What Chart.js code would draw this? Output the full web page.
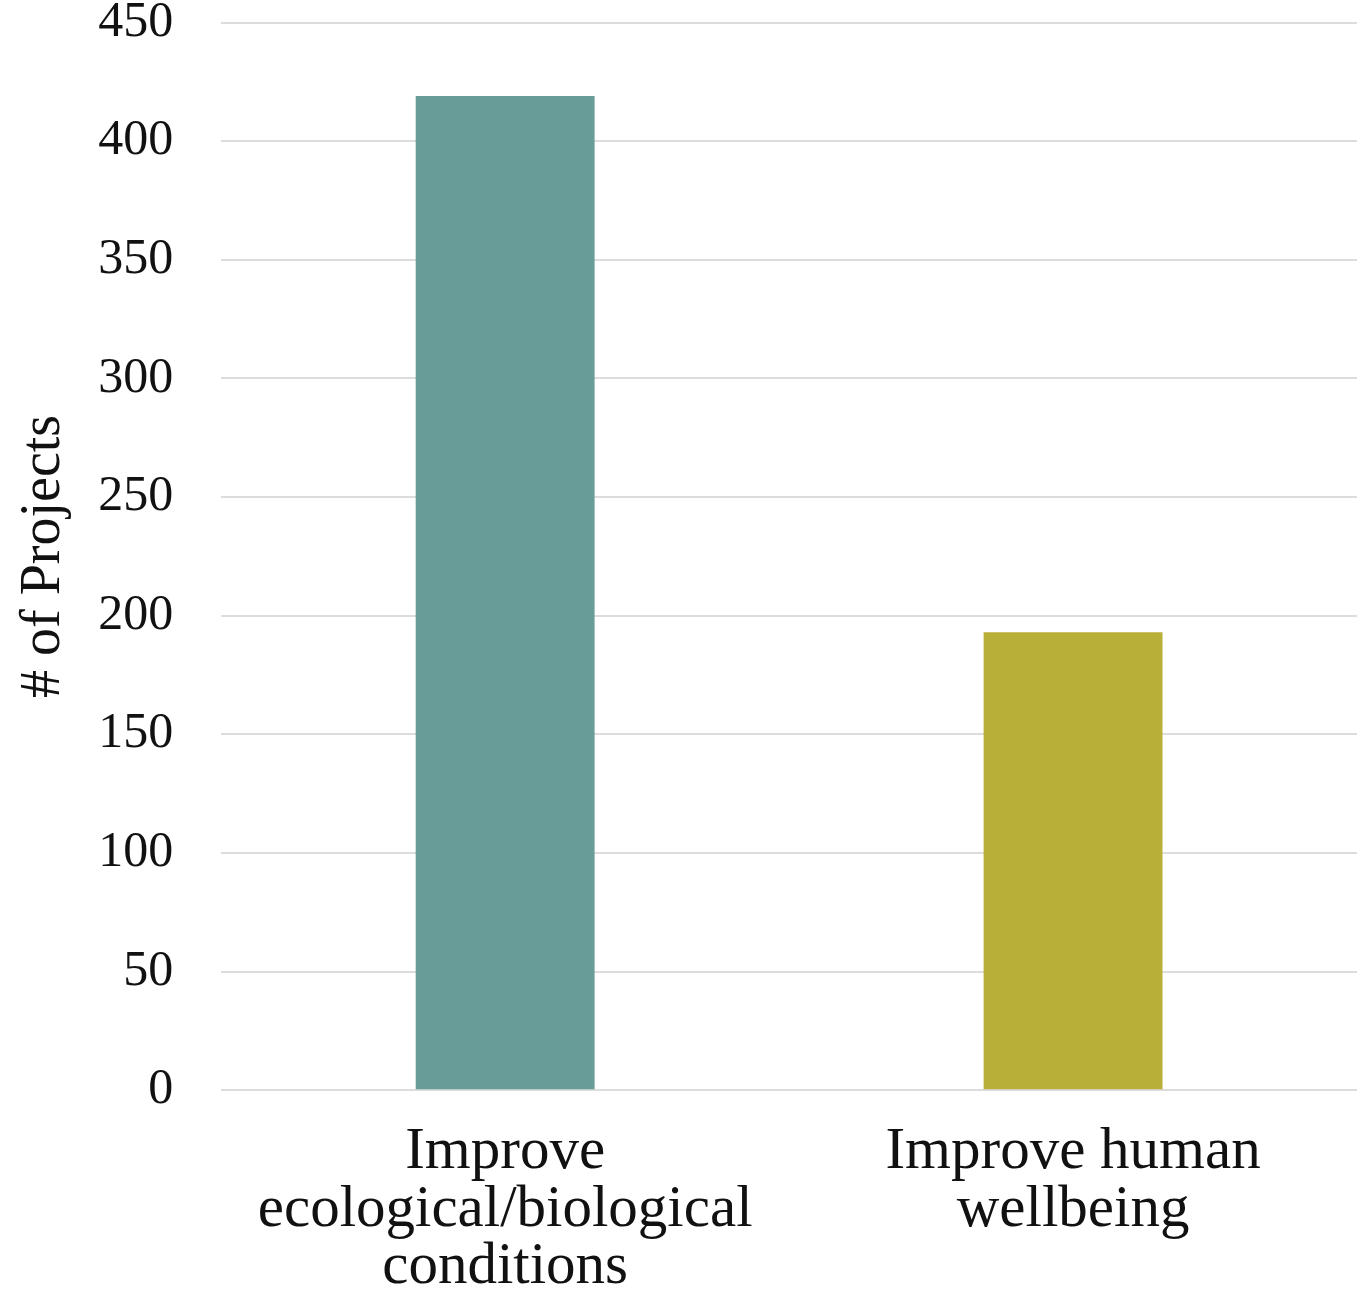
<!DOCTYPE html>
<html>
<head>
<meta charset="utf-8">
<script src="https://cdn.jsdelivr.net/npm/chart.js@4"></script>
<style>
  html, body { margin: 0; padding: 0; background: #fff; }
  #wrap { width: 1357px; height: 1296px; }
</style>
</head>
<body>
<div id="wrap"><canvas id="chart"></canvas></div>
<script>
// categories (multi-line labels) and values
const categories = [
  ['Improve', 'ecological/biological', 'conditions'],
  ['Improve human', 'wellbeing']
];
const projectCounts = [419, 193];
const barColors = ['#679C99', '#B8AF39'];
const yTicks = [0, 50, 100, 150, 200, 250, 300, 350, 400, 450];

const ctx = document.getElementById('chart').getContext('2d');
new Chart(ctx, {
  type: 'bar',
  data: {
    labels: categories,
    datasets: [{
      label: '# of Projects',
      data: projectCounts,
      backgroundColor: barColors,
      borderWidth: 0,
      categoryPercentage: 1,
      barPercentage: 0.315
    }]
  },
  options: {
    responsive: true,
    maintainAspectRatio: false,
    animation: false,
    plugins: {
      legend: { display: false },
      tooltip: { enabled: false }
    },
    scales: {
      x: {
        // invisible tick marks used as spacing instead of ticks.padding
        grid: { display: false, drawTicks: true, tickLength: 34, tickColor: 'rgba(0,0,0,0)' },
        border: { display: false },
        ticks: {
          color: '#111',
          padding: 0,
          maxRotation: 0,
          autoSkip: false,
          font: { family: 'Liberation Serif', size: 59, lineHeight: 0.97 }
        }
      },
      y: {
        min: 0,
        max: 450,
        afterBuildTicks: axis => { axis.ticks = yTicks.map(v => ({ value: v })); },
        grid: { color: '#dcdcdc', lineWidth: 2, drawTicks: true, tickLength: 48, tickColor: 'rgba(0,0,0,0)' },
        border: { display: false },
        ticks: {
          color: '#111',
          padding: 0,
          // small lineHeight keeps the top label padding tight
          font: { family: 'Liberation Serif', size: 50, lineHeight: 0.9 }
        },
        title: {
          display: true,
          text: '# of Projects',
          color: '#111',
          padding: { top: 11, bottom: 20 },
          font: { family: 'Liberation Serif', size: 56 }
        }
      }
    }
  }
});
</script>
</body>
</html>
